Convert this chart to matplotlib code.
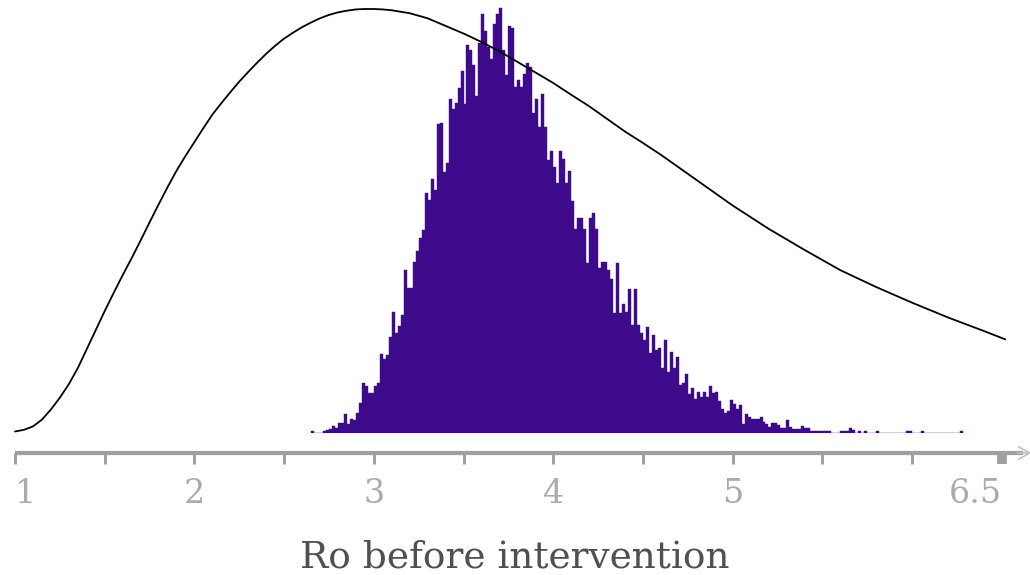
import numpy as np
import matplotlib
matplotlib.use("Agg")
import matplotlib.pyplot as plt

# Posterior samples of R0, binned (counts per bin)
bin_start = 2.65
bin_width = 1 / 60
counts = [
    2, 0, 0, 0, 2, 3, 4, 7, 5, 10,
    10, 19, 9, 14, 13, 20, 30, 50, 47, 40,
    40, 47, 50, 79, 74, 78, 96, 121, 100, 107,
    118, 163, 145, 145, 171, 182, 195, 203, 240, 233,
    254, 243, 309, 310, 261, 270, 334, 324, 330, 345,
    362, 329, 388, 383, 368, 337, 390, 419, 402, 386,
    374, 409, 419, 425, 383, 358, 407, 405, 346, 353,
    346, 359, 370, 366, 320, 334, 306, 339, 306, 273,
    282, 266, 250, 282, 274, 250, 262, 232, 204, 215,
    215, 204, 170, 215, 220, 204, 165, 171, 171, 163,
    154, 120, 170, 120, 129, 121, 144, 108, 144, 108,
    100, 93, 106, 80, 98, 83, 85, 65, 93, 61,
    81, 65, 76, 48, 50, 59, 39, 45, 34, 41,
    36, 41, 36, 47, 40, 41, 32, 24, 20, 22,
    33, 29, 24, 28, 9, 19, 16, 14, 14, 14,
    16, 11, 9, 6, 10, 10, 8, 5, 5, 13,
    6, 4, 4, 4, 7, 5, 5, 2, 2, 2,
    2, 2, 2, 2, 0, 0, 0, 2, 2, 2,
    5, 3, 0, 2, 0, 2, 0, 0, 0, 2,
    0, 0, 0, 0, 0, 0, 0, 0, 0, 2,
    2, 0, 0, 0, 2, 0, 0, 0, 0, 0,
    0, 0, 0, 0, 0, 0, 0, 2,
]

# Prior density of R0 (relative to its peak)
prior_x = [1.00, 1.05, 1.10, 1.15, 1.20, 1.25, 1.30, 1.35, 1.40, 1.45,
           1.50, 1.55, 1.60, 1.65, 1.70, 1.75, 1.80, 1.85, 1.90, 1.95,
           2.00, 2.05, 2.10, 2.15, 2.20, 2.25, 2.30, 2.35, 2.40, 2.45,
           2.50, 2.55, 2.60, 2.65, 2.70, 2.75, 2.80, 2.85, 2.90, 2.95,
           3.00, 3.05, 3.10, 3.20, 3.30, 3.40, 3.50, 3.60, 3.70, 3.80,
           3.90, 4.00, 4.10, 4.20, 4.30, 4.40, 4.50, 4.60, 4.70, 4.80,
           4.90, 5.00, 5.20, 5.40, 5.60, 5.80, 6.00, 6.20, 6.40, 6.52]
prior_y = [0.000, 0.004, 0.012, 0.028, 0.052, 0.080, 0.112, 0.150, 0.195, 0.240,
           0.285, 0.328, 0.370, 0.410, 0.452, 0.495, 0.537, 0.578, 0.617, 0.652,
           0.685, 0.718, 0.750, 0.777, 0.803, 0.828, 0.851, 0.873, 0.894, 0.913,
           0.930, 0.944, 0.957, 0.968, 0.978, 0.986, 0.992, 0.996, 0.999, 1.000,
           1.000, 0.999, 0.997, 0.990, 0.978, 0.960, 0.942, 0.922, 0.900, 0.875,
           0.850, 0.825, 0.797, 0.770, 0.740, 0.710, 0.683, 0.655, 0.625, 0.595,
           0.565, 0.535, 0.480, 0.430, 0.382, 0.342, 0.305, 0.270, 0.238, 0.218]

tick_major = [1, 2, 3, 4, 5, 6.5]
tick_major_labels = ["1", "2", "3", "4", "5", "6.5"]
tick_minor = [1.5, 2.5, 3.5, 4.5, 5.5, 6]
x_label = "Ro before intervention"

plt.rcParams["font.family"] = ["DejaVu Serif"]

W, H = 1030, 575
fig = plt.figure(figsize=(W / 100, H / 100), dpi=100)
base_px = 433
ax = fig.add_axes([0, (H - base_px) / H, 1, base_px / H])

x_lo = 1 - 15 / 179.4
x_hi = 1 + (W - 15) / 179.4
ax.set_xlim(x_lo, x_hi)
ax.set_ylim(0, 433)

edges = bin_start + bin_width * np.arange(len(counts))
ax.bar(edges, counts, width=bin_width, align="edge", color="#3c0a8a",
       edgecolor="#3c0a8a", linewidth=0.3)

# prior curve on its own vertical scale, drawn over the bars
ax2 = ax.twinx()
y0 = -1.5 / 422.5
ax2.set_ylim(y0, y0 + 433 / 422.5)
ax2.plot(prior_x, prior_y, color="black", linewidth=1.3,
         solid_joinstyle="round", solid_capstyle="round")
ax2.axis("off")

axis_col = "#a0a0a0"
for s in ["top", "left", "right"]:
    ax.spines[s].set_visible(False)
ax.spines["bottom"].set_position(("outward", 14.4))
ax.spines["bottom"].set_bounds(1, 6.62)
ax.spines["bottom"].set_color(axis_col)
ax.spines["bottom"].set_linewidth(3)
ax.spines["bottom"].set_capstyle("butt")
ax.set_yticks([])

ax.set_xticks(tick_major)
ax.set_xticklabels(tick_major_labels)
ax.set_xticks(tick_minor, minor=True)
ax.tick_params(axis="x", which="both", direction="out", length=8, width=2.2,
               color=axis_col, labelcolor="#ababab", labelsize=24, pad=10)
labels = ax.get_xticklabels()
labels[0].set_ha("left")
labels[-1].set_ha("right")
ax.xaxis.get_major_ticks()[-1].tick1line.set_markeredgewidth(7)

# arrow head at the end of the axis
ax.annotate("", xy=(1.004, -20 / 433), xytext=(0.985, -20 / 433),
            xycoords="axes fraction",
            arrowprops=dict(arrowstyle="->,head_length=0.8,head_width=0.45",
                            color="#c0c0c0", lw=1.2))

ax.set_xlabel(x_label, fontsize=27, color="#505050", labelpad=21)

fig.savefig("out.png", dpi=100)
